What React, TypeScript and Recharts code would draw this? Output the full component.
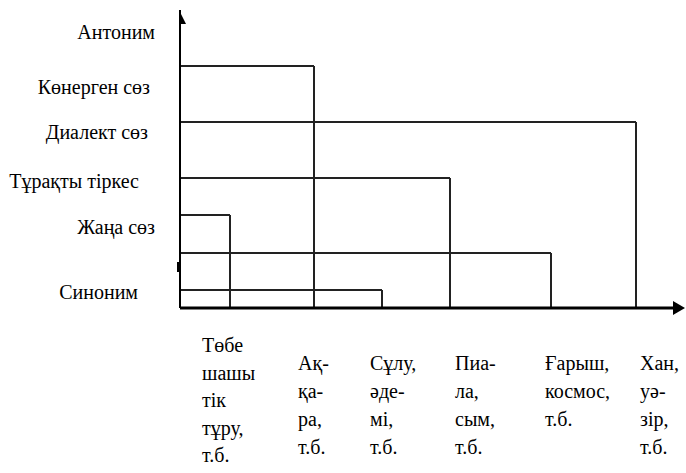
import React from "react";
import {
  ComposedChart,
  XAxis,
  YAxis,
  ReferenceLine,
  ReferenceDot,
} from "recharts";

// word categories, bottom to top
const categories = [
  "Синоним",
  "Жаңа сөз",
  "Тұрақты тіркес",
  "Диалект сөз",
  "Көнерген сөз",
  "Антоним",
];
// where each category name sits on the vertical scale
const categoryTicks = [15, 80, 126, 175, 220, 275];
// height of the step line for each category and how far right it reaches
const stepLevel = [18, 55, 93, 130, 186, 242];
const stepReach = [202, 371, 50, 270, 456, 134];

// example words under the horizontal axis
const exampleLabels = [
  ["Төбе", "шашы", "тік", "тұру,", "т.б."],
  ["Ақ-", "қа-", "ра,", "т.б."],
  ["Сұлу,", "әде-", "мі,", "т.б."],
  ["Пиа-", "ла,", "сым,", "т.б."],
  ["Ғарыш,", "космос,", "т.б."],
  ["Хан,", "уә-", "зір,", "т.б."],
];
const exampleTicks = [22, 118, 190, 275, 365, 460];

const X_MAX = 505;
const Y_MAX = 298;
const FONT = "Liberation Serif";
const FONT_SIZE = 20;
const LINE = "#222";

// small nudges so the names line up like the original
const nameShift = [-17, 0, -16, -7, -5, 0];

// make sure the serif face wins over any inherited/sans rule
const fontCss = `#root svg text, #root svg tspan { font-family: "Liberation Serif", serif !important; }`;

function CategoryTick(props: any) {
  const { x, y, payload } = props;
  const i = categoryTicks.indexOf(payload.value);
  return (
    <text
      x={x + (nameShift[i] ?? 0)}
      y={y + 6}
      textAnchor="end"
      fontFamily={FONT}
      fontSize={FONT_SIZE}
      fill="#000"
      style={{ fontFamily: FONT }}
    >
      {categories[i]}
    </text>
  );
}

function ExampleTick(props: any) {
  const { x, y, payload } = props;
  const i = exampleTicks.indexOf(payload.value);
  const lines = exampleLabels[i] ?? [];
  const tall = lines.length > 4;
  const top = tall ? 44 : 62;
  const gap = tall ? 27.5 : 28;
  return (
    <text
      x={x}
      y={y}
      textAnchor="start"
      fontFamily={FONT}
      fontSize={FONT_SIZE}
      fill="#000"
      style={{ fontFamily: FONT }}
    >
      {lines.map((w, k) => (
        <tspan key={k} x={x} y={y + top + k * gap}>
          {w}
        </tspan>
      ))}
    </text>
  );
}

export default function App() {
  return (
    <div style={{ position: "fixed", left: 0, top: 0, background: "#fff", fontFamily: FONT }}>
      <style>{fontCss}</style>
      <ComposedChart
        width={686}
        height={473}
        data={[]}
        margin={{ top: 10, right: 1, left: 0, bottom: 0 }}
        style={{ fontFamily: FONT }}
      >
        <XAxis
          type="number"
          dataKey="x"
          domain={[0, X_MAX]}
          ticks={exampleTicks}
          tick={<ExampleTick />}
          tickLine={false}
          axisLine={false}
          tickSize={0}
          tickMargin={0}
          height={165}
          interval={0}
          allowDataOverflow
        />
        <YAxis
          type="number"
          dataKey="y"
          domain={[0, Y_MAX]}
          ticks={categoryTicks}
          tick={<CategoryTick />}
          tickLine={false}
          axisLine={false}
          tickSize={0}
          tickMargin={25}
          width={180}
          interval={0}
          allowDataOverflow
        />

        {stepLevel.map((lv, i) => (
          <ReferenceLine
            key={"h" + i}
            segment={[
              { x: 0, y: lv },
              { x: stepReach[i], y: lv },
            ]}
            stroke={LINE}
            strokeWidth={2}
            ifOverflow="visible"
          />
        ))}
        {stepLevel.map((lv, i) => (
          <ReferenceLine
            key={"v" + i}
            segment={[
              { x: stepReach[i], y: lv },
              { x: stepReach[i], y: 0 },
            ]}
            stroke={LINE}
            strokeWidth={2}
            ifOverflow="visible"
          />
        ))}

        {/* axes */}
        <ReferenceLine
          segment={[
            { x: 0, y: 0 },
            { x: 0, y: Y_MAX },
          ]}
          stroke="#000"
          strokeWidth={2}
          ifOverflow="visible"
        />
        <ReferenceLine
          segment={[
            { x: 0, y: 0 },
            { x: X_MAX - 8, y: 0 },
          ]}
          stroke="#000"
          strokeWidth={3}
          ifOverflow="visible"
        />
        <ReferenceLine
          segment={[
            { x: -1.5, y: 36 },
            { x: -1.5, y: 46 },
          ]}
          stroke="#000"
          strokeWidth={3}
          ifOverflow="visible"
        />
        <ReferenceDot
          x={0}
          y={Y_MAX}
          ifOverflow="visible"
          shape={(p: any) => (
            <polygon
              points={`${p.cx - 1},${p.cy} ${p.cx + 6},${p.cy + 14} ${p.cx},${p.cy + 14}`}
              fill="#000"
            />
          )}
        />
        <ReferenceDot
          x={X_MAX}
          y={0}
          ifOverflow="visible"
          shape={(p: any) => (
            <polygon
              points={`${p.cx - 12},${p.cy - 7} ${p.cx},${p.cy} ${p.cx - 12},${p.cy + 7}`}
              fill="#000"
            />
          )}
        />
      </ComposedChart>
    </div>
  );
}
